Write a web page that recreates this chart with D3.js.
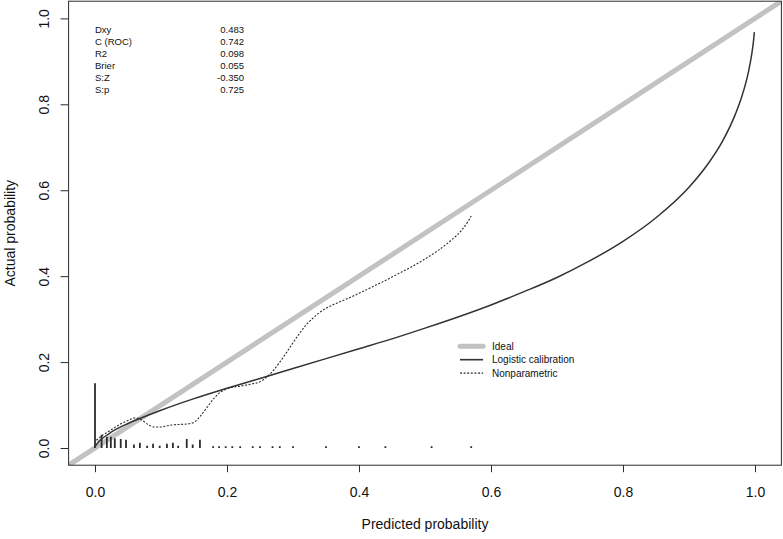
<!DOCTYPE html>
<html>
<head>
<meta charset="utf-8">
<script src="https://cdn.jsdelivr.net/npm/d3@7"></script>
<style>
  html, body { margin: 0; padding: 0; background: #fff; }
  svg { display: block; font-family: "Liberation Sans", Arial, Helvetica, sans-serif; }
</style>
</head>
<body>
<svg id="chart" width="783" height="539"></svg>
<script>
// ---------- data ----------
const tickValues = [0, 0.2, 0.4, 0.6, 0.8, 1.0];

const statLabels = ["Dxy", "C (ROC)", "R2", "Brier", "S:Z", "S:p"];
const statValues = ["0.483", "0.742", "0.098", "0.055", "-0.350", "0.725"];

const legendLabels = ["Ideal", "Logistic calibration", "Nonparametric"];

// logistic calibration curve (predicted, actual)
const logisticX = [0.001, 0.005, 0.01, 0.02, 0.03, 0.05, 0.07, 0.1, 0.15, 0.2, 0.25, 0.3, 0.35, 0.4, 0.45, 0.5,
  0.55, 0.6, 0.65, 0.7, 0.75, 0.8, 0.85, 0.9, 0.93, 0.95, 0.97, 0.98, 0.99, 0.995, 0.998, 0.999];
const logisticY = [0.005, 0.014, 0.021, 0.032, 0.042, 0.057, 0.070, 0.088, 0.115, 0.139, 0.162, 0.185, 0.208, 0.231, 0.254, 0.279,
  0.305, 0.333, 0.364, 0.397, 0.436, 0.481, 0.536, 0.607, 0.664, 0.712, 0.776, 0.818, 0.875, 0.916, 0.951, 0.968];

// nonparametric (loess) calibration curve
const nonparX = [0.002, 0.01, 0.02, 0.03, 0.04, 0.05, 0.06, 0.07, 0.08, 0.09, 0.1, 0.11, 0.12, 0.13, 0.14, 0.15,
  0.16, 0.17, 0.18, 0.19, 0.2, 0.22, 0.24, 0.25, 0.26, 0.27, 0.28, 0.29, 0.3, 0.31, 0.32, 0.33, 0.34, 0.35,
  0.36, 0.38, 0.4, 0.42, 0.44, 0.46, 0.48, 0.5, 0.52, 0.54, 0.555, 0.565, 0.57];
const nonparY = [0.018, 0.028, 0.038, 0.048, 0.057, 0.064, 0.07, 0.066, 0.055, 0.049, 0.049, 0.052, 0.054, 0.055, 0.056, 0.06,
  0.075, 0.095, 0.115, 0.13, 0.138, 0.144, 0.15, 0.154, 0.165, 0.18, 0.2, 0.222, 0.245, 0.267, 0.287, 0.302, 0.315, 0.325,
  0.333, 0.346, 0.36, 0.375, 0.39, 0.406, 0.422, 0.44, 0.46, 0.484, 0.506, 0.527, 0.54];

// distribution spikes of predicted probabilities
const rugX = [0.0, 0.01, 0.018, 0.024, 0.03, 0.039, 0.047, 0.059, 0.068, 0.079, 0.088, 0.098, 0.109, 0.118, 0.126, 0.139, 0.148, 0.159,
  0.179, 0.188, 0.198, 0.208, 0.22, 0.239, 0.25, 0.269, 0.28, 0.30, 0.35, 0.40, 0.44, 0.51, 0.57];
const rugH = [0.151, 0.031, 0.026, 0.026, 0.023, 0.021, 0.019, 0.008, 0.012, 0.005, 0.01, 0.005, 0.01, 0.012, 0.005, 0.021, 0.008, 0.019,
  0.004, 0.004, 0.004, 0.004, 0.004, 0.004, 0.004, 0.004, 0.004, 0.004, 0.004, 0.004, 0.004, 0.004, 0.004];

// ---------- layout ----------
const svg = d3.select("#chart");
const pLeft = 68.6, pRight = 781.4, pTop = 1.2, pBottom = 465.2;
const x = d3.scaleLinear().domain([-0.04, 1.04]).range([pLeft, pRight]);
const y = d3.scaleLinear().domain([-0.04, 1.04]).range([pBottom, pTop]);
const dark = "#2b2b2b";

svg.append("clipPath").attr("id", "plotclip")
  .append("rect").attr("x", pLeft).attr("y", pTop).attr("width", pRight - pLeft).attr("height", pBottom - pTop);

const plot = svg.append("g").attr("clip-path", "url(#plotclip)");

// ideal line
plot.append("line")
  .attr("x1", x(-0.04)).attr("y1", y(-0.04))
  .attr("x2", x(1.04)).attr("y2", y(1.04))
  .attr("stroke", "#c2c2c2").attr("stroke-width", 5);

// rug spikes
plot.selectAll("line.spike").data(rugX).join("line")
  .attr("class", "spike")
  .attr("x1", d => x(d)).attr("x2", d => x(d))
  .attr("y1", y(0)).attr("y2", (d, i) => y(rugH[i]))
  .attr("stroke", dark).attr("stroke-width", 1.8);

const line = d3.line().x(d => x(d[0])).y(d => y(d[1])).curve(d3.curveMonotoneX);

// logistic calibration
plot.append("path")
  .datum(logisticX.map((v, i) => [v, logisticY[i]]))
  .attr("d", line).attr("fill", "none")
  .attr("stroke", "#333").attr("stroke-width", 1.5);

// nonparametric
plot.append("path")
  .datum(nonparX.map((v, i) => [v, nonparY[i]]))
  .attr("d", line).attr("fill", "none")
  .attr("stroke", dark).attr("stroke-width", 1.1)
  .attr("stroke-dasharray", "2,1.6");

// box
svg.append("rect")
  .attr("x", pLeft).attr("y", pTop).attr("width", pRight - pLeft).attr("height", pBottom - pTop)
  .attr("fill", "none").attr("stroke", dark).attr("stroke-width", 1);

// axes
const fmt = d3.format(".1f");
const xAxis = svg.append("g").attr("transform", `translate(0,${pBottom})`)
  .call(d3.axisBottom(x).tickValues(tickValues).tickSize(7).tickFormat(fmt));
xAxis.select(".domain").remove();
xAxis.selectAll(".tick line").attr("stroke", dark);
xAxis.selectAll(".tick text").attr("y", 32).attr("dy", null)
  .attr("font-size", 14).attr("fill", "#111").attr("font-family", "Liberation Sans, Arial, sans-serif");

const yAxis = svg.append("g").attr("transform", `translate(${pLeft},0)`)
  .call(d3.axisLeft(y).tickValues(tickValues).tickSize(8).tickFormat(fmt));
yAxis.select(".domain").remove();
yAxis.selectAll(".tick line").attr("stroke", dark);
yAxis.selectAll(".tick text")
  .attr("x", null).attr("dy", null)
  .attr("text-anchor", "middle")
  .attr("transform", "translate(-20,0) rotate(-90)")
  .attr("font-size", 14).attr("fill", "#111").attr("font-family", "Liberation Sans, Arial, sans-serif");

// axis titles
svg.append("text").attr("x", (x(0) + x(1)) / 2).attr("y", 529)
  .attr("text-anchor", "middle").attr("font-size", 14).attr("fill", "#111")
  .text("Predicted probability");
svg.append("text")
  .attr("transform", `translate(15,${(y(0) + y(1)) / 2}) rotate(-90)`)
  .attr("text-anchor", "middle").attr("font-size", 14).attr("fill", "#111")
  .text("Actual probability");

// statistics block
const statTop = 0.965, statStep = 0.0279;
const stats = svg.append("g").attr("font-size", 9.5).attr("fill", "#111");
stats.selectAll("text.lab").data(statLabels).join("text")
  .attr("class", "lab")
  .attr("x", x(0)).attr("y", (d, i) => y(statTop - i * statStep))
  .text(d => d);
stats.selectAll("text.val").data(statValues).join("text")
  .attr("class", "val").attr("text-anchor", "end")
  .attr("x", x(0.2258)).attr("y", (d, i) => y(statTop - i * statStep))
  .text(d => d);

// legend
const legTop = 0.237, legStep = 0.0314;
const leg = svg.append("g");
const legStyles = [
  { stroke: "#c2c2c2", width: 5, dash: null },
  { stroke: "#333", width: 1.6, dash: null },
  { stroke: dark, width: 1.1, dash: "2,1.6" }
];
legendLabels.forEach((lab, i) => {
  const yy = y(legTop - i * legStep);
  leg.append("line")
    .attr("x1", x(0.553)).attr("x2", x(0.588)).attr("y1", yy).attr("y2", yy)
    .attr("stroke", legStyles[i].stroke).attr("stroke-width", legStyles[i].width)
    .attr("stroke-linecap", i === 0 ? "round" : "butt")
    .attr("stroke-dasharray", legStyles[i].dash);
  leg.append("text").attr("x", x(0.6015)).attr("y", yy + 3.5)
    .attr("font-size", 10).attr("fill", "#111").text(lab);
});
</script>
</body>
</html>
